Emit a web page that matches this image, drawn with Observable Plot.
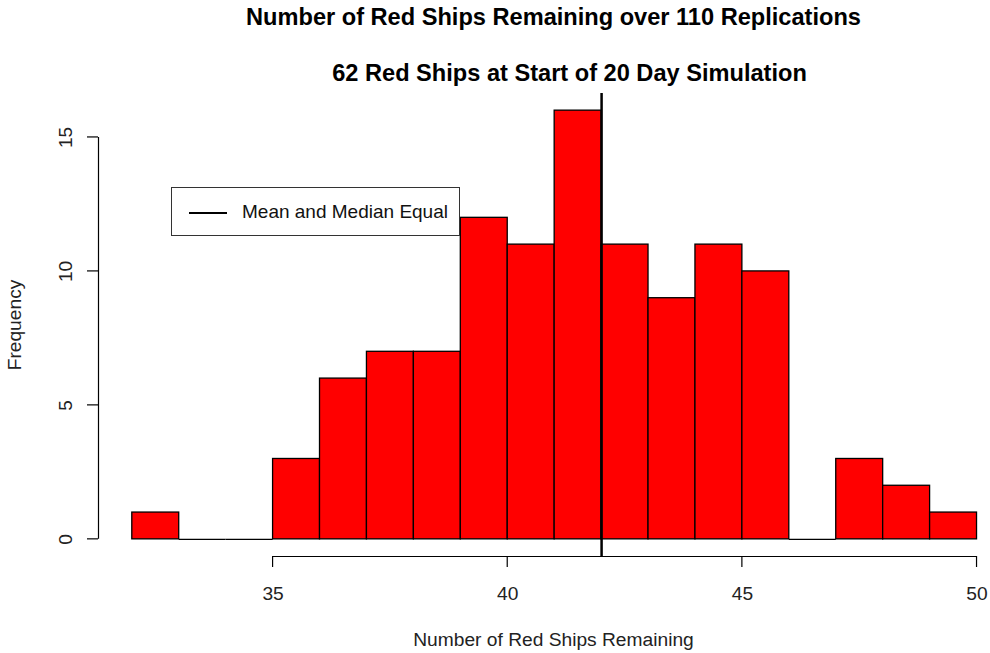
<!DOCTYPE html>
<html>
<head>
<meta charset="utf-8">
<script src="https://cdn.jsdelivr.net/npm/d3@7"></script>
<script src="https://cdn.jsdelivr.net/npm/@observablehq/plot@0.6"></script>
<style>
  html, body { margin: 0; padding: 0; background: #fff; }
  #wrap { position: relative; width: 990px; height: 653px; overflow: hidden; font-family: "Liberation Sans", Arial, sans-serif; }
  #legend { position: absolute; left: 171px; top: 187px; width: 287px; height: 47px; border: 1px solid #333; background: #fff; }
  #legend .ln { position: absolute; left: 17px; top: 24px; width: 38px; height: 0; border-top: 2.5px solid #000; }
  #legend .tx { position: absolute; left: 70px; top: 13px; font-size: 19px; line-height: 22px; color: #111; white-space: nowrap; }
</style>
</head>
<body>
<div id="wrap"></div>
<script>
// Histogram bins (lower edge) and counts
const binStarts = [32,33,34,35,36,37,38,39,40,41,42,43,44,45,46,47,48,49];
const binWidth = 1;
const counts    = [1, 0, 0, 3, 6, 7, 7,12,11,16,11, 9,11,10, 0, 3, 2, 1];
const meanMedian = 42;
const xTicks = [35, 40, 45, 50];
const yTicks = [0, 5, 10, 15];
const title1 = "Number of Red Ships Remaining over 110 Replications";
const title2 = "62 Red Ships at Start of 20 Day Simulation";
const xLabel = "Number of Red Ships Remaining";
const yLabel = "Frequency";
const legendLabel = "Mean and Median Equal";

const bins = binStarts.map((s, i) => ({x1: s, x2: s + binWidth, count: counts[i]}));
const emptyBins = bins.filter(b => b.count === 0);

// R-style 4% axis extension
const xr = [32, 50], yr = [0, 16];
const xext = (xr[1] - xr[0]) * 0.04, yext = (yr[1] - yr[0]) * 0.04;
const W = 990, H = 653, mL = 98, mT = 93, mB = 97;
const pxPerX = 46.93;
const xMax = xr[0] - xext + (W - mL) / pxPerX;

const font = "Liberation Sans, Arial, sans-serif";
const fs = 19.2, tfs = 23.6;

const chart = Plot.plot({
  width: W, height: H,
  marginLeft: mL, marginRight: 0, marginTop: mT, marginBottom: mB,
  style: {fontFamily: font, background: "#fff", overflow: "visible"},
  x: {type: "linear", domain: [xr[0] - xext, xMax], axis: null},
  y: {type: "linear", domain: [yr[0] - yext, yr[1] + yext], axis: null},
  marks: [
    Plot.rectY(bins, {x1: "x1", x2: "x2", y1: () => 0, y2: "count", fill: "#FF0000", stroke: "#000", strokeWidth: 1.3}),
    Plot.ruleY(emptyBins, {x1: "x1", x2: "x2", y: () => 0, stroke: "#000", strokeWidth: 1.3}),
    Plot.ruleX([meanMedian], {stroke: "#000", strokeWidth: 2.5}),
    // x axis line
    Plot.ruleY([yr[0] - yext], {x1: () => d3.min(xTicks), x2: () => d3.max(xTicks), stroke: "#000", strokeWidth: 1.2}),
    Plot.text(xTicks, {x: d => d, text: d => String(d), frameAnchor: "bottom", dy: 37, fontSize: fs, fill: "#222", lineAnchor: "middle"}),
    // y axis line
    Plot.ruleX([xr[0] - xext], {y1: () => d3.min(yTicks), y2: () => d3.max(yTicks), stroke: "#000", strokeWidth: 1.2}),
    Plot.text(yTicks, {y: d => d, text: d => String(d), frameAnchor: "left", dx: -33, rotate: -90, fontSize: fs, fill: "#222", lineAnchor: "middle", textAnchor: "middle"}),
    // titles & labels
    Plot.text([title1], {text: d => d, frameAnchor: "top", dx: 9, dy: -76, fontSize: tfs, fontWeight: "bold", fill: "#000", lineAnchor: "middle"}),
    Plot.text([title2], {text: d => d, frameAnchor: "top", dx: 25, dy: -20, fontSize: tfs, fontWeight: "bold", fill: "#000", lineAnchor: "middle"}),
    Plot.text([xLabel], {text: d => d, frameAnchor: "bottom", dx: 9, dy: 83, fontSize: fs, fill: "#222", lineAnchor: "middle"}),
    Plot.text([yLabel], {text: d => d, frameAnchor: "left", dx: -84, rotate: -90, fontSize: fs, fill: "#222", lineAnchor: "middle", textAnchor: "middle"})
  ]
});

const wrap = document.getElementById("wrap");
wrap.appendChild(chart);

// Outward R-style tick marks, positioned through the plot's own scales
const xs = chart.scale("x"), ys = chart.scale("y");
const svg = d3.select(chart);
const yBase = ys.apply(yr[0] - yext);
const xBase = xs.apply(xr[0] - xext);
const g = svg.append("g").attr("stroke", "#000").attr("stroke-width", 1.2);
xTicks.forEach(t => g.append("line").attr("x1", xs.apply(t)).attr("x2", xs.apply(t)).attr("y1", yBase).attr("y2", yBase + 11));
yTicks.forEach(t => g.append("line").attr("y1", ys.apply(t)).attr("y2", ys.apply(t)).attr("x1", xBase).attr("x2", xBase - 11));

const leg = document.createElement("div");
leg.id = "legend";
leg.innerHTML = '<div class="ln"></div><div class="tx"></div>';
leg.querySelector(".tx").textContent = legendLabel;
wrap.appendChild(leg);
</script>
</body>
</html>
